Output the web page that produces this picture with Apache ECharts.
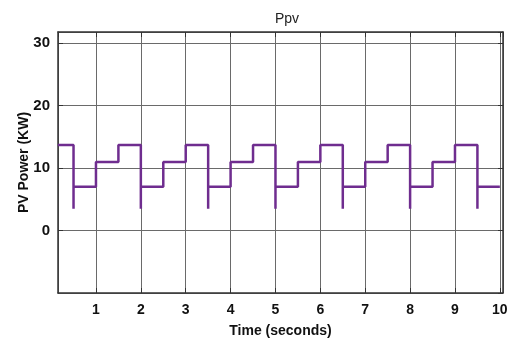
<!DOCTYPE html>
<html>
<head>
<meta charset="utf-8">
<script src="https://cdn.jsdelivr.net/npm/echarts@6/dist/echarts.min.js"></script>
<style>html,body{margin:0;padding:0;background:#fff}#c{width:512px;height:345px}</style>
</head>
<body>
<div id="c"></div>
<script>
const chartTitle = 'Ppv';
const xAxisName = 'Time (seconds)';
const yAxisName = 'PV Power (KW)';
const timeSec = [0.15, 0.5, 0.5, 0.5, 1.0, 1.0, 1.5, 1.5, 2.0, 2.0, 2.0, 2.5, 2.5, 3.0, 3.0, 3.5, 3.5, 3.5, 4.0, 4.0, 4.5, 4.5, 5.0, 5.0, 5.0, 5.5, 5.5, 6.0, 6.0, 6.5, 6.5, 6.5, 7.0, 7.0, 7.5, 7.5, 8.0, 8.0, 8.0, 8.5, 8.5, 9.0, 9.0, 9.5, 9.5, 9.5, 10.0];
const powerKW = [13.7, 13.7, 3.5, 7.0, 7.0, 11.0, 11.0, 13.7, 13.7, 3.5, 7.0, 7.0, 11.0, 11.0, 13.7, 13.7, 3.5, 7.0, 7.0, 11.0, 11.0, 13.7, 13.7, 3.5, 7.0, 7.0, 11.0, 11.0, 13.7, 13.7, 3.5, 7.0, 7.0, 11.0, 11.0, 13.7, 13.7, 3.5, 7.0, 7.0, 11.0, 11.0, 13.7, 13.7, 3.5, 7.0, 7.0];

const data = timeSec.map((t, i) => [t, powerKW[i]]);
const chart = echarts.init(document.getElementById('c'), null, {renderer: 'canvas'});
const gridColor = '#6a6a6a';
const labelStyle = {color: '#111', fontFamily: 'Liberation Sans, Arial, sans-serif', fontWeight: 'bold', fontSize: 14};
const yLabelStyle = Object.assign({}, labelStyle, {fontSize: 15});
chart.setOption({
  animation: false,
  backgroundColor: '#fff',
  title: {text: chartTitle, left: 282, top: 7, textAlign: 'center',
    textStyle: {fontFamily: 'Liberation Sans, Arial, sans-serif', fontWeight: 'normal', fontSize: 14, color: '#222'}},
  grid: {left: 58, right: 9, top: 32, bottom: 52},
  xAxis: [{
    type: 'value', min: 0.154, max: 10.07, minInterval: 1, maxInterval: 1,
    name: xAxisName, nameLocation: 'middle', nameGap: 31, nameMoveOverlap: false,
    nameTextStyle: labelStyle,
    axisLine: {onZero: false, lineStyle: {color: '#333', width: 1.5}},
    axisTick: {inside: true, length: 5, lineStyle: {color: '#333'}},
    axisLabel: Object.assign({margin: 10, showMinLabel: false, showMaxLabel: false,
      formatter: v => (Math.abs(v - Math.round(v)) < 1e-6 ? String(Math.round(v)) : '')}, labelStyle),
    splitLine: {show: true, lineStyle: {color: gridColor, width: 1}}
  }, {
    type: 'value', position: 'top', min: 0.154, max: 10.07, minInterval: 1, maxInterval: 1,
    axisLine: {onZero: false, lineStyle: {color: '#333', width: 1.5}},
    axisTick: {inside: true, length: 5, lineStyle: {color: '#333'}},
    axisLabel: {show: false}, splitLine: {show: false}
  }],
  yAxis: [{
    type: 'value', min: -10, max: 31.8, interval: 10,
    name: yAxisName, nameLocation: 'middle', nameGap: 27, nameRotate: 90, nameMoveOverlap: false,
    nameTextStyle: labelStyle,
    axisLine: {show: true, onZero: false, lineStyle: {color: '#333', width: 1.5}},
    axisTick: {inside: true, length: 5, lineStyle: {color: '#333'}},
    axisLabel: Object.assign({margin: 8, showMinLabel: false, showMaxLabel: false}, yLabelStyle),
    splitLine: {show: true, lineStyle: {color: gridColor, width: 1}}
  }, {
    type: 'value', position: 'right', min: -10, max: 31.8, interval: 10,
    axisLine: {show: true, onZero: false, lineStyle: {color: '#333', width: 1.5}},
    axisTick: {inside: true, length: 5, lineStyle: {color: '#333'}},
    axisLabel: {show: false}, splitLine: {show: false}
  }],
  series: [{
    type: 'line', data: data, xAxisIndex: 0, yAxisIndex: 0,
    showSymbol: false, symbol: 'none',
    lineStyle: {color: '#6f2d8f', width: 2.5},
    clip: true
  }]
});
</script>
</body>
</html>
